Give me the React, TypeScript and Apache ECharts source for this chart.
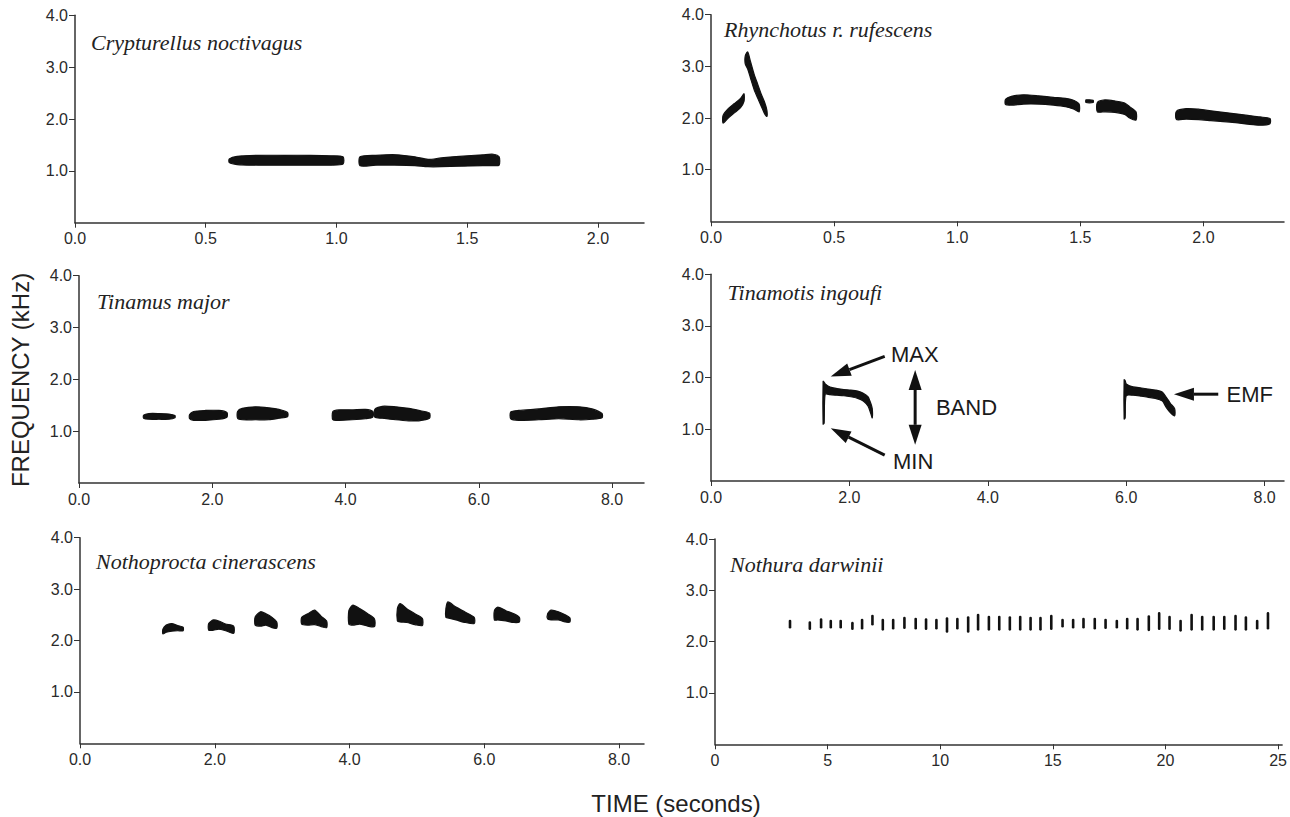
import React, { useEffect, useRef } from "react";
import * as echarts from "echarts";

// ---------- tick values ----------
const FREQ_TICKS = [1, 2, 3, 4];
const SHORT_TIME_TICKS = [0, 0.5, 1, 1.5, 2];
const MID_TIME_TICKS = [0, 2, 4, 6, 8];
const LONG_TIME_TICKS = [0, 5, 10, 15, 20, 25];

// ---------- species names ----------
const SPECIES = [
  "Crypturellus noctivagus",
  "Rhynchotus r. rufescens",
  "Tinamus major",
  "Tinamotis ingoufi",
  "Nothoprocta cinerascens",
  "Nothura darwinii",
];

// ---------- notes: [time s, low kHz, high kHz] ----------
const crypturellusNotes = [
  [[0.59, 1.16, 1.23], [0.62, 1.12, 1.28], [0.7, 1.11, 1.3], [0.8, 1.11, 1.3], [0.9, 1.11, 1.3], [0.98, 1.11, 1.29], [1.025, 1.13, 1.27]],
  [[1.09, 1.1, 1.27], [1.15, 1.11, 1.3], [1.23, 1.11, 1.31], [1.3, 1.1, 1.27], [1.35, 1.08, 1.22], [1.4, 1.08, 1.25], [1.47, 1.09, 1.28], [1.56, 1.1, 1.31], [1.6, 1.1, 1.32], [1.622, 1.11, 1.27]],
];

const rhynchotusNotes = [
  [[0.049, 1.9, 2.05], [0.07, 2.0, 2.18], [0.095, 2.1, 2.28], [0.12, 2.2, 2.38], [0.134, 2.32, 2.47]],
  [[0.139, 3.05, 3.2], [0.149, 2.95, 3.28], [0.16, 2.78, 3.1], [0.175, 2.55, 2.85], [0.19, 2.38, 2.65], [0.205, 2.22, 2.45], [0.218, 2.08, 2.3], [0.227, 2.03, 2.15]],
  [[1.196, 2.26, 2.36], [1.22, 2.25, 2.42], [1.27, 2.27, 2.45], [1.33, 2.27, 2.43], [1.39, 2.25, 2.4], [1.44, 2.22, 2.38], [1.475, 2.17, 2.34], [1.495, 2.12, 2.27]],
  [[1.523, 2.3, 2.35], [1.552, 2.3, 2.34]],
  [[1.569, 2.12, 2.3], [1.6, 2.12, 2.35], [1.64, 2.11, 2.33], [1.68, 2.07, 2.29], [1.7, 2.0, 2.22], [1.726, 1.96, 2.12]],
  [[1.89, 1.97, 2.13], [1.93, 1.98, 2.18], [1.98, 1.97, 2.17], [2.03, 1.95, 2.14], [2.08, 1.93, 2.11], [2.13, 1.91, 2.08], [2.18, 1.88, 2.05], [2.23, 1.86, 2.02], [2.27, 1.89, 1.99]],
];

const tinamusNotes = [
  [[0.97, 1.25, 1.31], [1.05, 1.23, 1.34], [1.2, 1.23, 1.34], [1.35, 1.23, 1.33], [1.44, 1.26, 1.3]],
  [[1.66, 1.24, 1.32], [1.72, 1.21, 1.38], [1.9, 1.21, 1.4], [2.1, 1.23, 1.4], [2.22, 1.27, 1.36]],
  [[2.38, 1.25, 1.38], [2.45, 1.22, 1.44], [2.65, 1.22, 1.47], [2.85, 1.22, 1.45], [3.0, 1.25, 1.42], [3.13, 1.28, 1.36]],
  [[3.81, 1.22, 1.38], [3.9, 1.21, 1.41], [4.1, 1.22, 1.41], [4.3, 1.24, 1.42], [4.41, 1.27, 1.38]],
  [[4.44, 1.27, 1.42], [4.55, 1.25, 1.48], [4.75, 1.22, 1.47], [4.95, 1.2, 1.44], [5.1, 1.2, 1.4], [5.26, 1.25, 1.35]],
  [[6.48, 1.24, 1.37], [6.6, 1.21, 1.4], [6.9, 1.22, 1.43], [7.2, 1.24, 1.47], [7.5, 1.22, 1.47], [7.7, 1.23, 1.43], [7.85, 1.26, 1.34]],
];

const tinamotisNotes = [
  [[1.62, 1.1, 1.93], [1.635, 1.12, 1.91], [1.65, 1.68, 1.88], [1.72, 1.67, 1.82], [1.82, 1.66, 1.79], [1.92, 1.65, 1.77], [2.02, 1.63, 1.76], [2.12, 1.6, 1.74], [2.2, 1.55, 1.7], [2.27, 1.45, 1.63], [2.31, 1.3, 1.5], [2.33, 1.22, 1.4]],
  [[5.97, 1.2, 1.96], [5.985, 1.22, 1.94], [6.0, 1.65, 1.88], [6.1, 1.66, 1.82], [6.22, 1.64, 1.8], [6.32, 1.62, 1.78], [6.42, 1.6, 1.76], [6.52, 1.55, 1.72], [6.58, 1.42, 1.62], [6.64, 1.32, 1.5], [6.7, 1.26, 1.4]],
];

const nothoproctaNotes = [
  [[1.23, 2.13, 2.22], [1.28, 2.16, 2.3], [1.36, 2.18, 2.33], [1.45, 2.19, 2.29], [1.53, 2.19, 2.26]],
  [[1.91, 2.2, 2.33], [1.98, 2.2, 2.4], [2.06, 2.22, 2.38], [2.16, 2.19, 2.32], [2.28, 2.14, 2.28]],
  [[2.6, 2.3, 2.46], [2.68, 2.28, 2.56], [2.76, 2.3, 2.52], [2.85, 2.25, 2.45], [2.92, 2.24, 2.36]],
  [[3.29, 2.32, 2.45], [3.38, 2.3, 2.52], [3.48, 2.31, 2.59], [3.58, 2.27, 2.47], [3.66, 2.25, 2.38]],
  [[3.99, 2.32, 2.58], [4.05, 2.3, 2.69], [4.15, 2.32, 2.62], [4.27, 2.28, 2.52], [4.37, 2.27, 2.42]],
  [[4.71, 2.38, 2.62], [4.75, 2.36, 2.72], [4.85, 2.35, 2.62], [4.97, 2.31, 2.52], [5.08, 2.29, 2.43]],
  [[5.43, 2.45, 2.62], [5.46, 2.44, 2.75], [5.58, 2.4, 2.65], [5.72, 2.35, 2.55], [5.85, 2.33, 2.45]],
  [[6.15, 2.4, 2.58], [6.2, 2.4, 2.65], [6.32, 2.38, 2.58], [6.44, 2.35, 2.52], [6.52, 2.36, 2.45]],
  [[6.94, 2.42, 2.52], [6.99, 2.4, 2.59], [7.1, 2.4, 2.56], [7.2, 2.36, 2.5], [7.27, 2.36, 2.44]],
];

// Nothura darwinii: short strokes [time s, low kHz, high kHz]
const nothuraStrokes = [
  [3.33, 2.28, 2.4], [4.21, 2.25, 2.37], [4.71, 2.28, 2.43], [5.14, 2.28, 2.4], [5.58, 2.28, 2.4],
  [6.1, 2.25, 2.36], [6.53, 2.26, 2.42], [6.99, 2.34, 2.5], [7.45, 2.24, 2.42], [7.91, 2.26, 2.42],
  [8.41, 2.27, 2.46], [8.91, 2.26, 2.44], [9.37, 2.25, 2.43], [9.83, 2.26, 2.42], [10.3, 2.2, 2.45],
  [10.76, 2.26, 2.44], [11.24, 2.2, 2.47], [11.68, 2.24, 2.52], [12.16, 2.24, 2.48], [12.62, 2.24, 2.48],
  [13.09, 2.24, 2.47], [13.55, 2.24, 2.48], [14.01, 2.24, 2.46], [14.45, 2.24, 2.46], [14.93, 2.25, 2.5],
  [15.43, 2.3, 2.42], [15.9, 2.28, 2.42], [16.36, 2.28, 2.44], [16.86, 2.26, 2.44], [17.34, 2.27, 2.42],
  [17.84, 2.28, 2.4], [18.3, 2.26, 2.44], [18.76, 2.24, 2.44], [19.26, 2.23, 2.49], [19.72, 2.25, 2.55],
  [20.18, 2.25, 2.48], [20.67, 2.22, 2.4], [21.16, 2.24, 2.52], [21.63, 2.24, 2.48], [22.14, 2.24, 2.48],
  [22.61, 2.25, 2.48], [23.11, 2.24, 2.5], [23.57, 2.24, 2.47], [24.07, 2.26, 2.4], [24.55, 2.26, 2.55],
];

// ---------- Tinamotis annotations ----------
// arrows: [tail time, tail kHz, head time, head kHz, double-headed 0/1]
const annotationArrows = [
  [2.51, 2.41, 1.73, 2.02, 0],
  [2.51, 0.5, 1.73, 1.02, 0],
  [2.95, 0.7, 2.95, 2.15, 1],
  [7.33, 1.68, 6.69, 1.68, 0],
];
const annotationLabels = ["MAX", "MIN", "BAND", "EMF"];
const annotationLabelPos = [
  [2.6, 2.44],
  [2.63, 0.37],
  [3.25, 1.42],
  [7.45, 1.68],
];

const PANELS = [
  { grid: { left: 75, top: 15.3, width: 569, height: 207.4 }, xMax: 2.176, ticks: SHORT_TIME_TICKS, dec: 1, title: { x: 91, y: 42 } },
  { grid: { left: 711, top: 14.7, width: 573, height: 206.6 }, xMax: 2.327, ticks: SHORT_TIME_TICKS, dec: 1, title: { x: 724, y: 29 } },
  { grid: { left: 79, top: 275.7, width: 565, height: 207.3 }, xMax: 8.48, ticks: MID_TIME_TICKS, dec: 1, title: { x: 97, y: 301 } },
  { grid: { left: 711, top: 274.3, width: 573, height: 206.7 }, xMax: 8.28, ticks: MID_TIME_TICKS, dec: 1, title: { x: 727.5, y: 292.5 } },
  { grid: { left: 80, top: 537.7, width: 564, height: 205.6 }, xMax: 8.37, ticks: MID_TIME_TICKS, dec: 1, title: { x: 96, y: 561.7 } },
  { grid: { left: 715, top: 539, width: 569, height: 205.3 }, xMax: 25.18, ticks: LONG_TIME_TICKS, dec: 0, title: { x: 730, y: 564.3 } },
];

const NOTE_SETS = [crypturellusNotes, rhynchotusNotes, tinamusNotes, tinamotisNotes, nothoproctaNotes, null];

const INK = "#111";
const AXIS = "#333";
const LABEL = "#2a2a2a";
const SANS = "'Liberation Sans', Arial, Helvetica, sans-serif";
const SERIF = "'Liberation Serif', 'Times New Roman', serif";

function noteSeries(notes: number[][][], idx: number) {
  return {
    type: "custom",
    xAxisIndex: idx,
    yAxisIndex: idx,
    data: notes.map((n) => [n[0][0], n[0][1]]),
    renderItem: (params: any, api: any) => {
      const pts = notes[params.dataIndex];
      const upper = pts.map((p) => api.coord([p[0], p[2]]));
      const lower = pts
        .slice()
        .reverse()
        .map((p) => api.coord([p[0], p[1]]));
      return {
        type: "polygon",
        shape: { points: upper.concat(lower), smooth: 0.25 },
        style: { fill: INK, stroke: INK, lineWidth: 1.2 },
      };
    },
  };
}

function arrowHead(tip: number[], from: number[], len: number, half: number) {
  const dx = tip[0] - from[0];
  const dy = tip[1] - from[1];
  const d = Math.sqrt(dx * dx + dy * dy) || 1;
  const ux = dx / d;
  const uy = dy / d;
  const bx = tip[0] - ux * len;
  const by = tip[1] - uy * len;
  return {
    base: [bx, by],
    pts: [
      [tip[0], tip[1]],
      [bx - uy * half, by + ux * half],
      [bx + uy * half, by - ux * half],
    ],
  };
}

export default function App() {
  const ref = useRef<HTMLDivElement>(null);

  useEffect(() => {
    if (!ref.current) return;
    const chart = echarts.init(ref.current, undefined, { renderer: "svg" });

    const grids = PANELS.map((p) => ({ ...p.grid, containLabel: false }));
    const xAxes = PANELS.map((p, i) => ({
      type: "value",
      gridIndex: i,
      min: 0,
      max: p.xMax,
      axisLine: { show: true, onZero: false, lineStyle: { color: AXIS, width: 1.5 } },
      axisTick: { show: true, length: 5, customValues: p.ticks, lineStyle: { color: AXIS, width: 1 } },
      axisLabel: {
        show: true,
        customValues: p.ticks,
        margin: 8,
        fontSize: 16,
        fontFamily: SANS,
        color: LABEL,
        formatter: (v: number) => v.toFixed(p.dec),
      },
      splitLine: { show: false },
    }));
    const yAxes = PANELS.map((p, i) => ({
      type: "value",
      gridIndex: i,
      min: 0,
      max: 4,
      axisLine: { show: true, onZero: false, lineStyle: { color: AXIS, width: 1.5 } },
      axisTick: { show: true, length: 6, customValues: FREQ_TICKS, lineStyle: { color: AXIS, width: 1 } },
      axisLabel: {
        show: true,
        customValues: FREQ_TICKS,
        margin: 7,
        fontSize: 16,
        fontFamily: SANS,
        color: LABEL,
        formatter: (v: number) => v.toFixed(1),
      },
      splitLine: { show: false },
    }));

    const series: any[] = [];
    NOTE_SETS.forEach((ns, i) => {
      if (ns) series.push(noteSeries(ns as number[][][], i));
    });

    // Nothura strokes
    series.push({
      type: "custom",
      xAxisIndex: 5,
      yAxisIndex: 5,
      data: nothuraStrokes,
      renderItem: (params: any, api: any) => {
        const s = nothuraStrokes[params.dataIndex];
        const a = api.coord([s[0], s[1]]);
        const b = api.coord([s[0], s[2]]);
        return {
          type: "line",
          shape: { x1: a[0], y1: a[1], x2: b[0], y2: b[1] },
          style: { stroke: INK, lineWidth: 2.6, lineCap: "round" },
        };
      },
    });

    // Tinamotis arrows
    series.push({
      type: "custom",
      xAxisIndex: 3,
      yAxisIndex: 3,
      data: annotationArrows.map((a) => [a[0], a[1]]),
      renderItem: (params: any, api: any) => {
        const a = annotationArrows[params.dataIndex];
        const tail = api.coord([a[0], a[1]]);
        const head = api.coord([a[2], a[3]]);
        const L = 20;
        const H = 6.5;
        const h1 = arrowHead(head, tail, L, H);
        const children: any[] = [];
        let start = tail;
        if (a[4]) {
          const h0 = arrowHead(tail, head, L, H);
          start = h0.base;
          children.push({ type: "polygon", shape: { points: h0.pts }, style: { fill: INK } });
        }
        children.push({
          type: "line",
          shape: { x1: start[0], y1: start[1], x2: h1.base[0], y2: h1.base[1] },
          style: { stroke: INK, lineWidth: 3 },
        });
        children.push({ type: "polygon", shape: { points: h1.pts }, style: { fill: INK } });
        return { type: "group", children };
      },
    });

    // Tinamotis labels
    series.push({
      type: "custom",
      xAxisIndex: 3,
      yAxisIndex: 3,
      data: annotationLabelPos,
      renderItem: (params: any, api: any) => {
        const pos = annotationLabelPos[params.dataIndex];
        const c = api.coord(pos);
        return {
          type: "text",
          x: c[0],
          y: c[1],
          style: {
            text: annotationLabels[params.dataIndex],
            fontSize: 22,
            fontFamily: SANS,
            fill: "#1a1a1a",
            align: "left",
            verticalAlign: "middle",
          },
        };
      },
    });

    const graphics: any[] = PANELS.map((p, i) => ({
      type: "text",
      x: p.title.x,
      y: p.title.y,
      style: {
        text: SPECIES[i],
        fontSize: 22,
        fontStyle: "italic",
        fontFamily: SERIF,
        fill: "#222",
        align: "left",
        verticalAlign: "middle",
      },
    }));
    graphics.push({
      type: "text",
      x: 20,
      y: 380,
      rotation: Math.PI / 2,
      style: {
        text: "FREQUENCY (kHz)",
        fontSize: 24,
        fontFamily: SANS,
        fill: "#222",
        align: "center",
        verticalAlign: "middle",
      },
    });
    graphics.push({
      type: "text",
      x: 676,
      y: 803,
      style: {
        text: "TIME (seconds)",
        fontSize: 24,
        fontFamily: SANS,
        fill: "#222",
        align: "center",
        verticalAlign: "middle",
      },
    });

    chart.setOption({
      animation: false,
      backgroundColor: "#fff",
      grid: grids,
      xAxis: xAxes,
      yAxis: yAxes,
      series,
      graphic: graphics,
    });

    return () => chart.dispose();
  }, []);

  return (
    <div
      ref={ref}
      style={{ position: "fixed", left: 0, top: 0, width: 1290, height: 817, background: "#fff" }}
    />
  );
}
